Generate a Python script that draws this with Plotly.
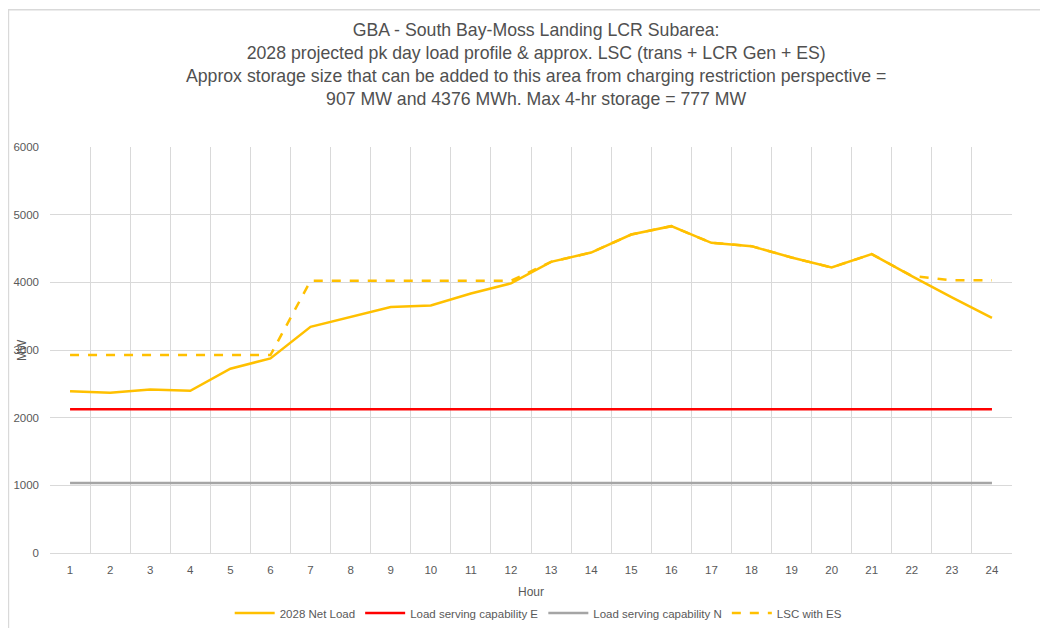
import plotly.graph_objects as go

hours = list(range(1, 25))
net_load = [2390, 2370, 2418, 2397, 2723, 2876, 3343, 3491, 3634, 3658, 3836, 3984,
            4303, 4440, 4707, 4830, 4584, 4535, 4367, 4220, 4417, 4092, 3777, 3476]
lsc_e = [2125] * 24
lsc_n = [1035] * 24
lsc_es = [2925, 2925, 2925, 2925, 2925, 2925, 4022, 4022, 4022, 4022, 4022, 4022,
          4303, 4440, 4707, 4830, 4584, 4535, 4367, 4220, 4417, 4095, 4030, 4030]

title_lines = [
    "GBA - South Bay-Moss Landing LCR Subarea:",
    "2028 projected pk day load profile & approx. LSC (trans + LCR Gen + ES)",
    "Approx storage size that can be added to this area from charging restriction perspective =",
    "907 MW and 4376 MWh. Max 4-hr storage = 777 MW",
]

FONT = "Liberation Sans"
TXT = "#595959"

fig = go.Figure()
fig.add_trace(go.Scatter(x=hours, y=net_load, mode="lines", name="2028 Net Load",
                         line=dict(color="#FFC000", width=2.5)))
fig.add_trace(go.Scatter(x=hours, y=lsc_e, mode="lines", name="Load serving capability E",
                         line=dict(color="#FF0000", width=2.5)))
fig.add_trace(go.Scatter(x=hours, y=lsc_n, mode="lines", name="Load serving capability N",
                         line=dict(color="#A5A5A5", width=2.5)))
fig.add_trace(go.Scatter(x=hours, y=lsc_es, mode="lines", name="LSC with ES",
                         line=dict(color="#FFC000", width=2.5, dash="dash")))

fig.update_layout(
    width=1048, height=628,
    margin=dict(l=42, r=44, t=139, b=83, autoexpand=False),
    paper_bgcolor="white", plot_bgcolor="white",
    font=dict(family=FONT, color=TXT, size=11),
    title=dict(text="<br>".join(title_lines), x=0.504, xanchor="center",
               y=0.955, yanchor="top",
               font=dict(family=FONT, size=17.7, color="#505050")),
    showlegend=True,
    legend=dict(orientation="h", x=0.508, xanchor="center", y=-0.148, yanchor="middle",
                font=dict(size=11.5, color=TXT), itemwidth=40),
    xaxis=dict(range=[0.5, 24.5], tickmode="array", tickvals=hours,
               ticktext=[str(h) for h in hours], showgrid=False, zeroline=False,
               showline=True, linecolor="#D9D9D9", linewidth=1, ticks="",
               tickfont=dict(size=11.5), ticklabelstandoff=6,
               title=dict(text="Hour", font=dict(size=12, color=TXT), standoff=12),
               minor=dict(tickmode="linear", tick0=0.5, dtick=1, showgrid=True,
                          gridcolor="#D9D9D9", gridwidth=1, ticks="")),
    yaxis=dict(range=[0, 6000], dtick=1000, showgrid=True, gridcolor="#D9D9D9",
               zeroline=False, showline=False, ticks="", ticklabelstandoff=10,
               tickfont=dict(size=11.5)),
    annotations=[dict(text="MW", x=-0.029, y=0.5, xref="paper", yref="paper",
                      xanchor="center", yanchor="middle",
                      textangle=-90, showarrow=False, font=dict(size=12, color=TXT))],
    shapes=[
        dict(type="line", xref="paper", yref="paper", x0=-0.0437, x1=1.05,
             y0=1.338, y1=1.338, line=dict(color="#D9D9D9", width=1.5)),
        dict(type="line", xref="paper", yref="paper", x0=-0.0432, x1=-0.0432,
             y0=-0.2, y1=1.338, line=dict(color="#D9D9D9", width=1.5)),
    ],
)

fig.write_html("out.html")
